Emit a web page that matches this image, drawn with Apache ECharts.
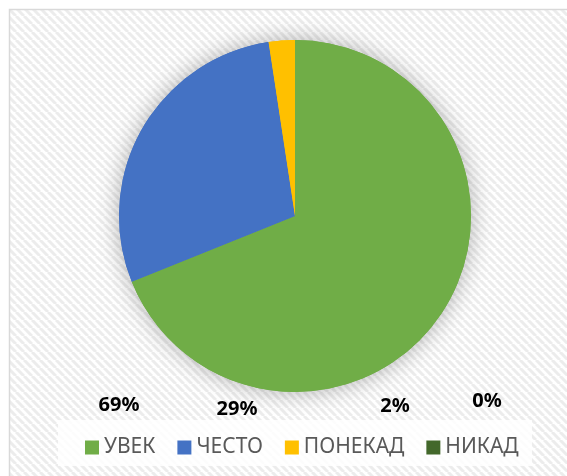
<!DOCTYPE html>
<html>
<head>
<meta charset="utf-8">
<script src="https://cdn.jsdelivr.net/npm/echarts@6/dist/echarts.min.js"></script>
<style>
  html, body { margin: 0; padding: 0; background: #fff; }
  #chart { width: 567px; height: 476px; }
</style>
</head>
<body>
<div id="chart"></div>
<script>
// data
var categories = ['УВЕК', 'ЧЕСТО', 'ПОНЕКАД', 'НИКАД']
var values = [68.9, 28.7, 2.4, 0]
var colors = ['#70AD47', '#4472C4', '#FFC000', '#43682B']

// where the (moved) data labels sit
var labelPos = [[119, 405], [237, 409], [395, 406], [487, 401]]

// diagonal striped background tile
function stripeTile () {
  var c = document.createElement('canvas')
  c.width = 8
  c.height = 8
  var ctx = c.getContext('2d')
  ctx.fillStyle = '#ffffff'
  ctx.fillRect(0, 0, 8, 8)
  ctx.strokeStyle = '#ececec'
  ctx.lineWidth = 3
  for (var k = -8; k <= 16; k += 8) {
    ctx.beginPath()
    ctx.moveTo(k, 0)
    ctx.lineTo(k + 8, 8)
    ctx.stroke()
  }
  return c
}

var total = values.reduce(function (a, b) { return a + b }, 0)
var pieData = categories.map(function (name, i) {
  return { name: name, value: values[i], itemStyle: { color: colors[i] } }
})

var graphics = [
  {
    type: 'rect',
    z: -10,
    shape: { x: 9.5, y: 9.5, width: 600, height: 500 },
    style: { fill: { image: stripeTile(), repeat: 'repeat' }, stroke: '#d9d9d9', lineWidth: 1.5 },
    silent: true
  },
  {
    type: 'rect',
    z: -9,
    shape: { x: 58, y: 420, width: 474, height: 46 },
    style: { fill: '#ffffff', opacity: 0.85 },
    silent: true
  }
]
values.forEach(function (v, i) {
  graphics.push({
    type: 'text',
    x: labelPos[i][0],
    y: labelPos[i][1],
    style: {
      text: Math.round(v / total * 100) + '%',
      fill: '#000',
      font: 'bold 20px "Noto Sans"',
      align: 'center',
      verticalAlign: 'middle'
    }
  })
})

var myChart = echarts.init(document.getElementById('chart'))
myChart.setOption({
  animation: false,
  backgroundColor: '#fff',
  graphic: graphics,
  legend: {
    data: categories,
    left: 80,
    top: 432,
    icon: 'rect',
    itemWidth: 14,
    itemHeight: 14,
    itemGap: 22,
    textStyle: {
      color: '#595959',
      fontSize: 21,
      fontFamily: 'Noto Sans'
    }
  },
  series: [
    {
      // shadow layer under the pie
      type: 'pie',
      silent: true,
      center: [295, 216],
      radius: 176,
      startAngle: 90,
      label: { show: false },
      labelLine: { show: false },
      data: pieData,
      itemStyle: {
        shadowBlur: 22,
        shadowColor: 'rgba(0,0,0,0.3)'
      },
      z: 1
    },
    {
      type: 'pie',
      center: [295, 216],
      radius: 176,
      startAngle: 90,
      label: { show: false },
      labelLine: { show: false },
      data: pieData,
      z: 2
    }
  ]
})
</script>
</body>
</html>
